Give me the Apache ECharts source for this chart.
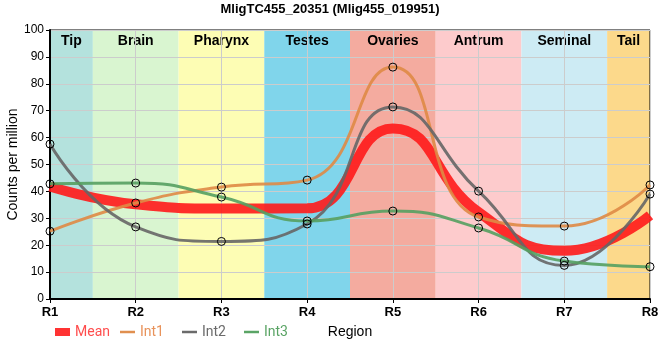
<!DOCTYPE html>
<html>
<head>
<meta charset="utf-8">
<script src="https://cdn.jsdelivr.net/npm/echarts@6/dist/echarts.min.js"></script>
<style>html,body{margin:0;padding:0;background:#fff}#c{width:660px;height:360px}</style>
</head>
<body>
<div id="c"></div>
<script>
var categories = ['R1','R2','R3','R4','R5','R6','R7','R8'];
var regions = ['Tip','Brain','Pharynx','Testes','Ovaries','Antrum','Seminal','Tail'];
var regionColors = ['#b4e2dd','#d9f5d0','#fdfdb4','#80d5eb','#f4ab9f','#fdcbcc','#cdebf4','#fcd98b'];
var int1 = [25.2, 35.7, 41.6, 44.2, 86.2, 30.5, 27.1, 42.4];
var int2 = [57.6, 26.8, 21.4, 27.9, 71.4, 40.1, 12.5, 39.0];
var int3 = [42.8, 43.1, 37.9, 29.0, 32.7, 26.4, 14.1, 12.0];
var mean = [41.8, 35.2, 33.6, 33.7, 63.4, 32.3, 17.9, 31.1];
var yTicks = [0,10,20,30,40,50,60,70,80,90,100];

function pts(arr){ return arr.map(function(v,i){ return [i+1, v]; }); }

var bandData = regions.map(function(r,i){
  var x0 = i === 0 ? 1 : i + 0.5;
  var x1 = i === regions.length-1 ? regions.length : i + 1.5;
  return [{name:r, xAxis:x0, itemStyle:{color:regionColors[i]}}, {xAxis:x1}];
});

var font = 'Liberation Sans, Arial, sans-serif';
var lfont = 'Roboto, sans-serif';
var chart = echarts.init(document.getElementById('c'), null, {renderer:'canvas'});
var markerStyle = {color:'rgba(0,0,0,0)', borderColor:'#000', borderWidth:1};
function lineSeries(name, data, color){
  return {
    name:name, type:'line', data:pts(data), smooth:0.5, z:3,
    symbol:'circle', symbolSize:8, showSymbol:true,
    lineStyle:{color:color, width:3, opacity:0.9},
    itemStyle:markerStyle,
    emphasis:{disabled:true}
  };
}
var lineIcon = 'path://M0,0h15v2.5h-15z';
chart.setOption({
  animation:false,
  title:{text:'MligTC455_20351 (Mlig455_019951)', left:'center', top:-2,
    textStyle:{fontFamily:font, fontSize:13, fontWeight:'bold', color:'#000'}},
  grid:{left:50, right:10, top:30, bottom:61, containLabel:false, outerBoundsMode:'none',
    show:true, borderColor:'#000', borderWidth:1, backgroundColor:'transparent'},
  xAxis:{type:'value', min:1, max:8, interval:1,
    name:'Region', nameLocation:'middle', nameGap:26, nameMoveOverlap:false,
    nameTextStyle:{fontFamily:font, fontSize:14, color:'#000'},
    axisLine:{show:true, lineStyle:{color:'#000', width:2}},
    axisTick:{show:true, length:4, lineStyle:{color:'#000'}},
    axisLabel:{fontFamily:font, fontSize:13, fontWeight:'bold', color:'#000', margin:7,
      formatter:function(v){ return categories[Math.round(v)-1] || ''; }},
    splitLine:{show:true, lineStyle:{color:'#cccccc', width:1}}
  },
  yAxis:{type:'value', min:0, max:100, interval:10,
    name:'Counts per million', nameLocation:'middle', nameGap:30, nameMoveOverlap:false,
    nameTextStyle:{fontFamily:font, fontSize:14, color:'#000'},
    axisLine:{show:true, lineStyle:{color:'#000', width:2}},
    axisTick:{show:true, length:4, lineStyle:{color:'#000'}},
    axisLabel:{fontFamily:font, fontSize:12, color:'#000', margin:6,
      formatter:function(v){ return yTicks.indexOf(v) >= 0 ? String(v) : ''; }},
    splitLine:{show:true, lineStyle:{color:'#cccccc', width:1}}
  },
  legend:[
    {left:55, top:325, padding:0, itemWidth:15, itemHeight:8, itemGap:12, selectedMode:false,
      textStyle:{fontFamily:lfont, fontSize:14},
      data:[{name:'Mean', icon:'rect', itemStyle:{color:'#ff3333'}, textStyle:{color:'#ff4d4d'}}]},
    {left:120, top:325, padding:0, itemWidth:15, itemHeight:8, itemGap:18, selectedMode:false,
      textStyle:{fontFamily:lfont, fontSize:14},
      data:[
        {name:'Int1', icon:lineIcon, itemStyle:{color:'#e08f4f', borderWidth:0}, textStyle:{color:'#e8925a'}},
        {name:'Int2', icon:lineIcon, itemStyle:{color:'#6b6b6b', borderWidth:0}, textStyle:{color:'#6b6b6b'}},
        {name:'Int3', icon:lineIcon, itemStyle:{color:'#5aa465', borderWidth:0}, textStyle:{color:'#5aa465'}}
      ]}
  ],
  series:[
    {name:'bands', type:'line', data:[], z:-1, silent:true,
      markArea:{silent:true, z:-1,
        label:{show:true, position:'insideTop', distance:4, fontFamily:font, fontSize:14, fontWeight:'bold', color:'#000'},
        data:bandData}},
    {name:'Mean', type:'line', data:pts(mean), smooth:0.5, z:2, showSymbol:false, symbol:'none',
      lineStyle:{color:'#ff1a1a', width:10, opacity:0.9}, itemStyle:{color:'#ff3333'}, emphasis:{disabled:true}},
    lineSeries('Int1', int1, '#df8a45'),
    lineSeries('Int2', int2, '#666666'),
    lineSeries('Int3', int3, '#55a060')
  ]
});
</script>
</body>
</html>
